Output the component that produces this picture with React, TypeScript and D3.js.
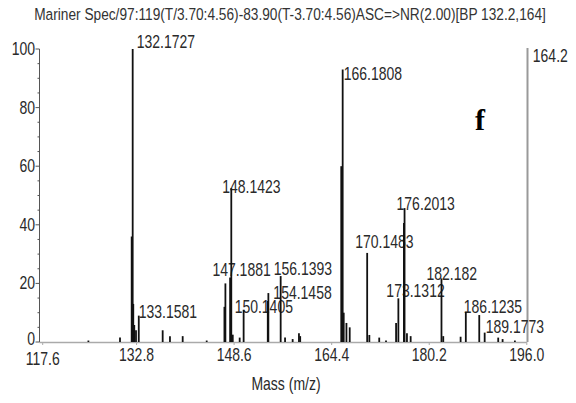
import React from 'react';
import * as d3 from 'd3';

// spectrum title and axis text
const titleText = 'Mariner Spec/97:119(T/3.70:4.56)-83.90(T-3.70:4.56)ASC=>NR(2.00)[BP 132.2,164]';
const xTicks = [117.6, 132.8, 148.6, 164.4, 180.2, 196.0];
const yTicks = [0, 20, 40, 60, 80, 100];
const yMinor = d3.range(0, 101, 5);

// peaks: m/z, relative intensity
const peakMass = [
    125.0, 130.12, 132.01, 132.1727, 132.27, 132.43, 132.71, 133.1581, 137.03, 138.21, 140.27, 144.16,
    147.03, 147.1881, 147.95, 148.1423, 148.38, 149.5, 150.1405, 154.05, 154.1458, 156.1393, 156.85,
    158.08, 159.1, 159.3, 165.95, 166.1808, 166.35, 166.79, 167.32, 170.1483, 170.5, 172.1, 173.2,
    174.83, 175.2, 176.1, 176.2013, 176.59, 177.19, 182.182, 182.47, 185.28, 186.1235, 188.3,
    189.1773, 191.37, 192.08, 194.07,
];
const peakIntensity = [
    0.5, 1.5, 36, 100, 13, 5.8, 4, 9, 4, 2, 2, 0.5,
    12, 20, 22, 52.5, 2.5, 1.5, 11, 14, 16.7, 22.5, 1.5,
    1, 3, 2, 60, 93, 10, 6.5, 5, 30.4, 2.4, 1.5, 0.5,
    6.5, 14.9, 40.6, 45.7, 3, 2, 21.7, 2, 1.8, 10.3, 9.2,
    3.2, 1.5, 1, 0.5,
];
// labelled peaks (index into the arrays above) and their text
const labelIndex = [3, 7, 13, 15, 18, 20, 21, 27, 31, 36, 38, 41, 44, 46];
const labelText = [
    '132.1727', '133.1581', '147.1881', '148.1423', '150.1405', '154.1458', '156.1393',
    '166.1808', '170.1483', '173.1312', '176.2013', '182.182', '186.1235', '189.1773',
];
// label nudges relative to the peak top (px)
const labelDx = [4, 0, -13, -9, -9, 5, -7, 1, -12, -12, -8, -15, -2, 1];
const labelDy = [-1, 2, -7, 5, 3, 6, -1, 10, -5, -1, 2, 2, 1, 0];

const W = 576;
const H = 403;
const FONT = '"Liberation Sans", Arial, sans-serif';

const NarrowText = ({x, y, size = 17.5, sx = 0.8, anchor = 'start', fill = '#2a2a2a', children}: any) => (
    <text
        transform={`translate(${x},${y}) scale(${sx},1)`}
        fontFamily={FONT}
        fontSize={size}
        textAnchor={anchor}
        fill={fill}
    >
        {children}
    </text>
);

export default function App() {
    const x = d3.scaleLinear().domain([117.6, 196.0]).range([42.7, 526.8]);
    const y = d3.scaleLinear().domain([0, 100]).range([342, 49]);
    const axisX = 39.5;

    return (
        <div style={{position: 'absolute', left: 0, top: 0}}>
            <svg width={W} height={H} style={{display: 'block', background: '#fff'}}>
                {/* title */}
                <NarrowText x={290} y={20} size={16.5} sx={0.83} anchor="middle" fill="#333">
                    {titleText}
                </NarrowText>

                {/* frame */}
                <line x1={axisX} x2={axisX} y1={y(100)} y2={y(0)} stroke="#555" strokeWidth={1}/>
                <line x1={axisX} x2={x(196)} y1={y(0) + 0.5} y2={y(0) + 0.5} stroke="#aaa" strokeWidth={1.5}/>
                <line x1={x(196) + 0.7} x2={x(196) + 0.7} y1={y(100) - 1} y2={y(0)} stroke="#999" strokeWidth={2}/>
                <NarrowText x={x(196) + 6} y={62}>164.2</NarrowText>

                {/* y ticks */}
                {yMinor.map(v => (
                    <line key={'m' + v} x1={axisX - (v % 20 === 0 ? 4 : 2)} x2={axisX} y1={y(v)} y2={y(v)}
                          stroke="#555" strokeWidth={1}/>
                ))}
                {yTicks.map(v => (
                    <NarrowText key={'y' + v} x={35} y={y(v) + (v === 0 ? 3 : 6)} anchor="end">{v}</NarrowText>
                ))}

                {/* x ticks */}
                {xTicks.map(v => (
                    <g key={'x' + v}>
                        <line x1={x(v)} x2={x(v)} y1={y(0)} y2={y(0) + 3} stroke="#aaa" strokeWidth={1}/>
                        <NarrowText x={x(v)} y={v === 117.6 ? 365 : 361} anchor="middle">{v.toFixed(1)}</NarrowText>
                    </g>
                ))}
                <NarrowText x={286} y={390} anchor="middle">Mass (m/z)</NarrowText>

                {/* peak labels */}
                {labelIndex.map((idx, i) => (
                    <NarrowText key={'l' + i} x={x(peakMass[idx]) + labelDx[i]} y={y(peakIntensity[idx]) + labelDy[i]}>
                        {labelText[i]}
                    </NarrowText>
                ))}

                {/* peaks */}
                {peakMass.map((m, i) => (
                    <line key={'p' + i} x1={x(m)} x2={x(m)} y1={y(0)} y2={y(peakIntensity[i])}
                          stroke="#111" strokeWidth={1.8}/>
                ))}

                {/* panel letter */}
                <text x={475} y={130} fontFamily='"Liberation Serif", "Times New Roman", serif' fontSize={30}
                      fontWeight="bold" fill="#000">f</text>
            </svg>
        </div>
    );
}
